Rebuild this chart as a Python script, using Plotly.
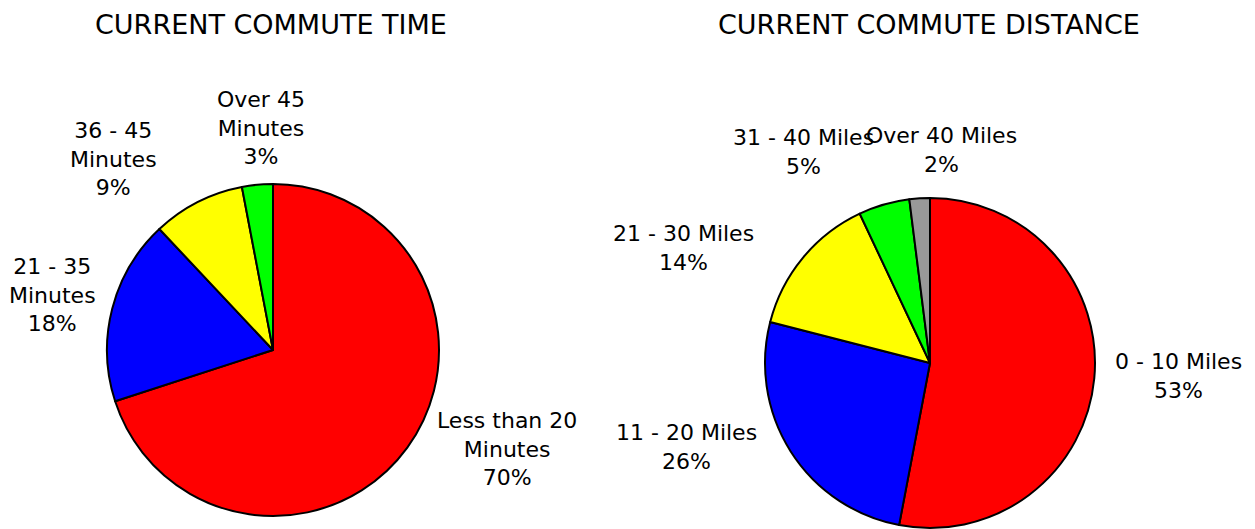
import plotly.graph_objects as go

# ---- data ----
time_labels = ["Less than 20 Minutes", "21 - 35 Minutes", "36 - 45 Minutes", "Over 45 Minutes"]
time_values = [70, 18, 9, 3]
time_colors = ["#FF0000", "#0000FF", "#FFFF00", "#00FF00"]

dist_labels = ["0 - 10 Miles", "11 - 20 Miles", "21 - 30 Miles", "31 - 40 Miles", "Over 40 Miles"]
dist_values = [53, 26, 14, 5, 2]
dist_colors = ["#FF0000", "#0000FF", "#FFFF00", "#00FF00", "#999999"]

# display text for labels (line breaks as in the reference)
time_text = ["Less than 20<br>Minutes", "21 - 35<br>Minutes", "36 - 45<br>Minutes", "Over 45<br>Minutes"]
dist_text = ["0 - 10 Miles", "11 - 20 Miles", "21 - 30 Miles", "31 - 40 Miles", "Over 40 Miles"]

# ---- layout (screen pixel positions in a 1255x529 window) ----
W, H = 1255, 529
OFF = 8  # page body margin
FONT = "DejaVu Sans, Verdana, sans-serif"


def px_x(x):
    return (x - OFF) / W


def px_y(y):
    return 1 - (y - OFF) / H


def domain(cx, cy, r):
    return dict(x=[px_x(cx - r), px_x(cx + r)], y=[px_y(cy + r), px_y(cy - r)])


time_label_pos = [(507, 449), (52, 295), (113, 159), (261, 128)]
dist_label_pos = [(1178, 376), (686, 447), (683, 248), (803, 152), (941, 150)]

fig = go.Figure()
fig.add_trace(go.Pie(
    labels=time_labels, values=time_values, sort=False, direction="clockwise", rotation=0,
    marker=dict(colors=time_colors, line=dict(color="black", width=2)),
    textinfo="none", hoverinfo="label+percent", showlegend=False,
    domain=domain(273, 350, 166),
))
fig.add_trace(go.Pie(
    labels=dist_labels, values=dist_values, sort=False, direction="clockwise", rotation=0,
    marker=dict(colors=dist_colors, line=dict(color="black", width=2)),
    textinfo="none", hoverinfo="label+percent", showlegend=False,
    domain=domain(930, 363, 165),
))

annotations = []
total_t = sum(time_values)
for txt, v, (x, y) in zip(time_text, time_values, time_label_pos):
    annotations.append(dict(
        text=f"{txt}<br>{round(100 * v / total_t)}%", x=px_x(x), y=px_y(y),
        xref="paper", yref="paper", xanchor="center", yanchor="middle",
        showarrow=False, align="center", font=dict(family=FONT, size=22, color="black"),
    ))
total_d = sum(dist_values)
for txt, v, (x, y) in zip(dist_text, dist_values, dist_label_pos):
    annotations.append(dict(
        text=f"{txt}<br>{round(100 * v / total_d)}%", x=px_x(x), y=px_y(y),
        xref="paper", yref="paper", xanchor="center", yanchor="middle",
        showarrow=False, align="center", font=dict(family=FONT, size=22, color="black"),
    ))

for title, cx in [("CURRENT COMMUTE TIME", 271), ("CURRENT COMMUTE DISTANCE", 929)]:
    annotations.append(dict(
        text=title, x=px_x(cx), y=px_y(OFF), xref="paper", yref="paper",
        xanchor="center", yanchor="top", showarrow=False, borderpad=0,
        font=dict(family=FONT, size=27, color="black"),
    ))

fig.update_layout(
    width=W, height=H, margin=dict(l=0, r=0, t=0, b=0),
    paper_bgcolor="white", plot_bgcolor="white",
    annotations=annotations,
)

fig.write_html("out.html")
